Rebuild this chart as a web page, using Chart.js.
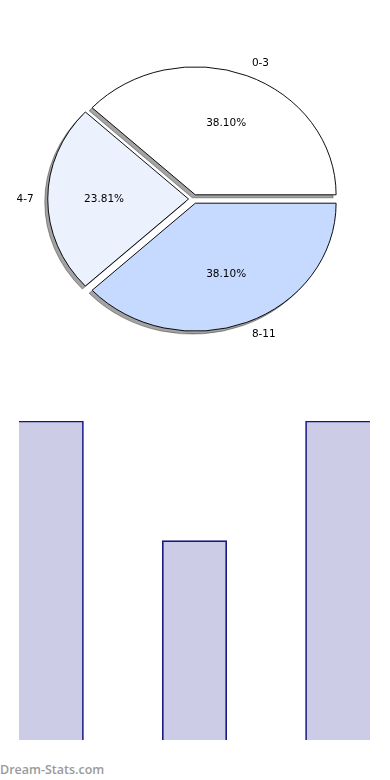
<!DOCTYPE html>
<html>
<head>
<meta charset="utf-8">
<title>Age groups</title>
<script src="https://cdn.jsdelivr.net/npm/chart.js@4.4.1/dist/chart.umd.min.js"></script>
<style>
    body { margin: 0; background: #fff; width: 390px; height: 780px; position: relative; overflow: hidden; }
    #pie-chart { position: absolute; left: 0; top: 0; }
    #bar-chart { position: absolute; left: 0; top: 400px; }
    #watermark {
        position: absolute; left: 0; top: 761px;
        font: 600 12.5px "Open Sans", sans-serif; color: #9a9a9a;
    }
</style>
</head>
<body>
<canvas id="pie-chart" width="390" height="398"></canvas>
<canvas id="bar-chart" width="390" height="340"></canvas>
<div id="watermark">Dream-Stats.com</div>
<script>
// Data
const ageGroups = ['0-3', '4-7', '8-11'];
const groupCounts = [8, 5, 8];
const pieColors = ['#ffffff', '#ebf2fe', '#c5dafe'];

// Chart.js draws clockwise from the right, the original goes counter-clockwise
const pieLabels = ageGroups.slice().reverse();
const pieValues = groupCounts.slice().reverse();
const pieFills = pieColors.slice().reverse();
const total = groupCounts.reduce((a, b) => a + b, 0);

const SCALE_X = 1.1;   // the pie is a bit wider than tall
const EXPLODE = 4.5;

function placeArc(ctx, arc) {
    const mid = (arc.startAngle + arc.endAngle) / 2;
    ctx.translate(arc.x + Math.cos(mid) * EXPLODE * SCALE_X, arc.y + Math.sin(mid) * EXPLODE);
    ctx.scale(SCALE_X, 1);
    ctx.translate(-arc.x, -arc.y);
}

const explodedPie = {
    id: 'explodedPie',
    beforeDatasetDraw(chart, args) {
        const ctx = chart.ctx;
        const arcs = args.meta.data;
        // shadows first, drawn off-canvas so only the shadow lands
        arcs.forEach(arc => {
            ctx.save();
            ctx.translate(-2000, 0);
            ctx.shadowColor = 'rgba(0, 0, 0, 0.36)';
            ctx.shadowOffsetX = 2000 - 3;
            ctx.shadowOffsetY = 3;
            placeArc(ctx, arc);
            arc.draw(ctx);
            ctx.restore();
        });
        arcs.forEach(arc => {
            ctx.save();
            placeArc(ctx, arc);
            arc.draw(ctx);
            ctx.restore();
        });
        return false;
    },
    afterDraw(chart) {
        const ctx = chart.ctx;
        const arcs = chart.getDatasetMeta(0).data;
        ctx.save();
        ctx.font = '10.5px "DejaVu Sans"';
        ctx.fillStyle = '#000';
        ctx.textBaseline = 'middle';
        arcs.forEach((arc, i) => {
            const mid = (arc.startAngle + arc.endAngle) / 2;
            const c = Math.cos(mid), s = Math.sin(mid);
            const r = arc.outerRadius;
            ctx.textAlign = c > 0.01 ? 'left' : 'right';
            ctx.fillText(pieLabels[i],
                arc.x + SCALE_X * (EXPLODE + 1.1 * r) * c,
                arc.y + (EXPLODE + 1.1 * r) * s);
            ctx.textAlign = 'center';
            ctx.fillText((pieValues[i] / total * 100).toFixed(2) + '%',
                arc.x + SCALE_X * (EXPLODE + 0.6 * r) * c,
                arc.y + (EXPLODE + 0.6 * r) * s);
        });
        ctx.restore();
    }
};

new Chart(document.getElementById('pie-chart').getContext('2d'), {
    type: 'pie',
    data: {
        labels: pieLabels,
        datasets: [{
            data: pieValues,
            backgroundColor: pieFills,
            borderColor: '#000',
            borderWidth: 0.9,
            borderJoinStyle: 'miter'
        }]
    },
    options: {
        responsive: false,
        animation: false,
        events: [],
        rotation: 90,
        radius: 128,
        layout: { padding: { right: 3 } },
        plugins: { legend: { display: false }, tooltip: { enabled: false } }
    },
    plugins: [explodedPie]
});

// Bar chart, one bar per group
const barPoints = groupCounts.map((v, i) => ({ x: i, y: v }));
const lastBar = groupCounts.length - 1;

new Chart(document.getElementById('bar-chart').getContext('2d'), {
    type: 'bar',
    data: {
        datasets: [{
            label: 'Count',
            data: barPoints,
            backgroundColor: 'rgba(0, 0, 128, 0.2)',
            borderColor: '#1a1a85',
            borderWidth: ctx => ({
                top: 1,
                bottom: 0,
                left: ctx.dataIndex === 0 ? 0 : 1,
                right: ctx.dataIndex === lastBar ? 0 : 1
            }),
            borderSkipped: 'start',
            barThickness: 'flex',
            categoryPercentage: 1,
            barPercentage: 0.45
        }]
    },
    options: {
        responsive: false,
        animation: false,
        events: [],
        layout: { padding: { left: 19, right: 20, top: 21, bottom: 0 } },
        scales: {
            x: { type: 'linear', offset: false, min: -0.225, max: 2.225, display: false },
            y: { min: 0, max: 8, display: false }
        },
        plugins: { legend: { display: false }, tooltip: { enabled: false } }
    }
});
</script>
</body>
</html>
